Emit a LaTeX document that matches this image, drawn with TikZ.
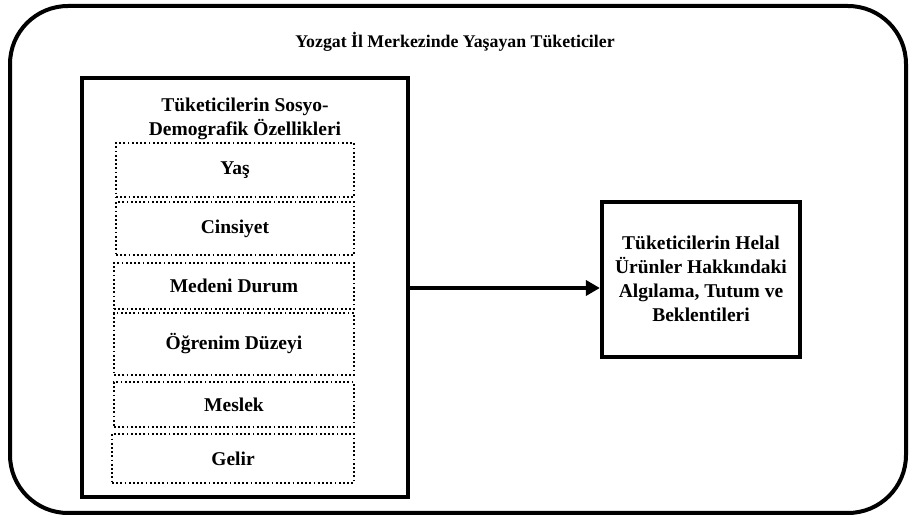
\documentclass[tikz,border=0pt]{standalone}
\usepackage{fontspec}
\setmainfont{Liberation Serif}
\usetikzlibrary{arrows.meta}
\begin{document}
\begin{tikzpicture}[x=1pt,y=-1pt,
  txt/.style={font=\bfseries\fontsize{19.5}{23.5}\selectfont, align=center, inner sep=0pt},
  ttl/.style={font=\bfseries\fontsize{17.8}{20}\selectfont, align=center, inner sep=0pt},
  dotbox/.style={draw, line width=1.8pt, dash pattern=on 1.8pt off 2.4pt},
  thickbox/.style={draw, line width=4.2pt}]
\useasboundingbox (0,0) rectangle (911,518);
\draw[line width=4pt, rounded corners=58pt] (10,6) rectangle (906,513);
\node[ttl] (title) at (455,42) {Yozgat İl Merkezinde Yaşayan Tüketiciler};
\node[thickbox, minimum width=326pt, minimum height=419pt, inner sep=0pt] (left) at (245,287.5) {};
\node[txt] (lt) at (245,119) {Tüketicilerin Sosyo-\\Demografik Özellikleri};
\node[dotbox, minimum width=238pt, minimum height=54pt, inner sep=0pt] (b1) at (235,170) {};
\node[dotbox, minimum width=238pt, minimum height=53pt, inner sep=0pt] (b2) at (235,228.5) {};
\node[dotbox, minimum width=240pt, minimum height=46pt, inner sep=0pt] (b3) at (234,286) {};
\node[dotbox, minimum width=240pt, minimum height=62pt, inner sep=0pt] (b4) at (234,344) {};
\node[dotbox, minimum width=240pt, minimum height=45pt, inner sep=0pt] (b5) at (234,404.5) {};
\node[dotbox, minimum width=242pt, minimum height=49pt, inner sep=0pt] (b6) at (233,458.5) {};
\node[txt] at (b1) {Yaş};
\node[txt] at (b2) {Cinsiyet};
\node[txt] at (b3) {Medeni Durum};
\node[txt] at (b4) {Öğrenim Düzeyi};
\node[txt] at (b5) {Meslek};
\node[txt] at (b6) {Gelir};
\node[thickbox, minimum width=198pt, minimum height=155pt, inner sep=0pt] (right) at (701,279.5) {};
\node[txt, font=\bfseries\fontsize{19.5}{24}\selectfont] (rt) at (701,279) {Tüketicilerin Helal\\Ürünler Hakkındaki\\Algılama, Tutum ve\\Beklentileri};
\coordinate (as) at (left.east |- 0,288);
\coordinate (ae) at (right.west |- 0,288);
\draw[line width=4.5pt, -{Triangle[length=14pt,width=15pt]}] (as) -- (ae);
\end{tikzpicture}
\end{document}
